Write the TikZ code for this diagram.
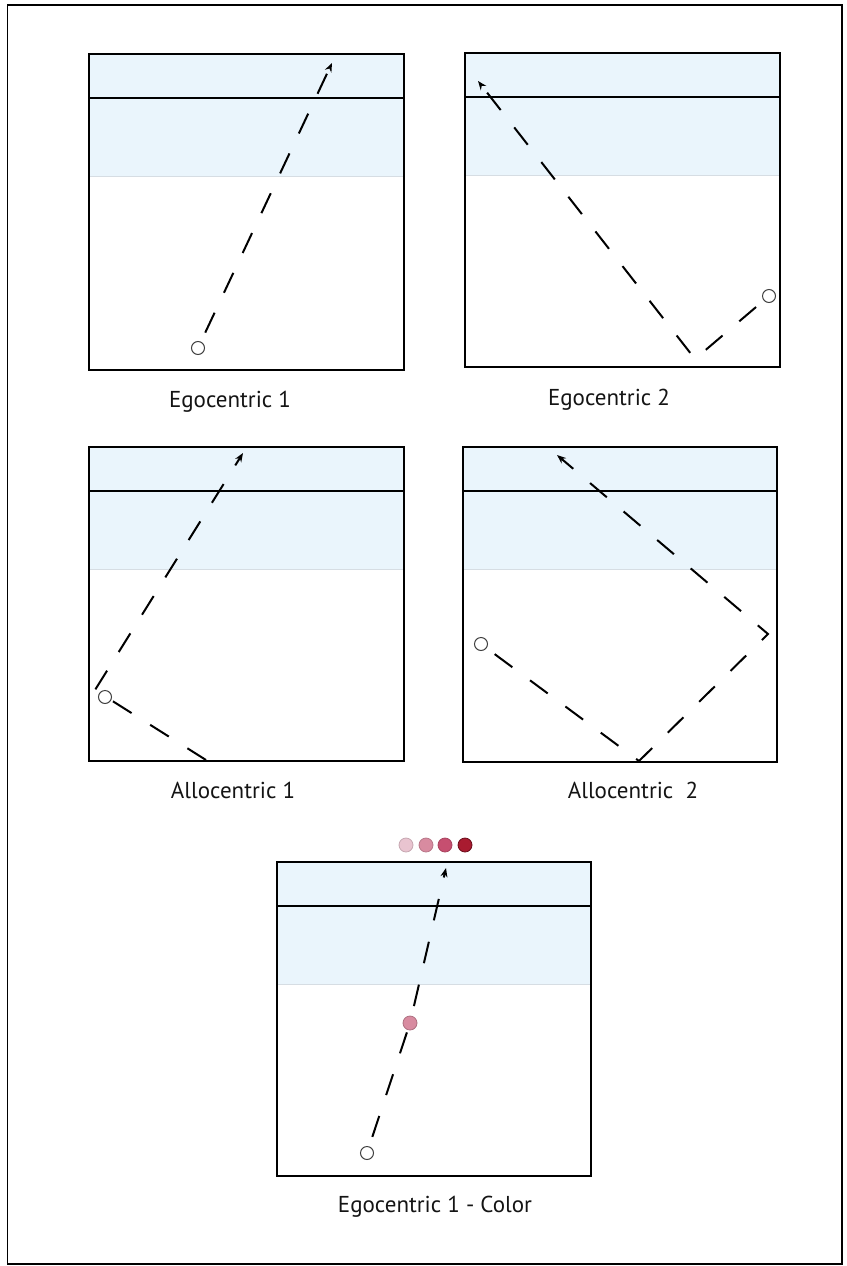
\documentclass[tikz,border=0pt]{standalone}
\usepackage{fontspec}
\setmainfont{PT Sans}
\usetikzlibrary{arrows.meta}

\definecolor{sky}{HTML}{EAF5FC}
\definecolor{rim}{HTML}{D6DDE3}
\definecolor{dotA}{HTML}{E9C4D0}
\definecolor{dotB}{HTML}{D88BA0}
\definecolor{dotC}{HTML}{C64F70}
\definecolor{dotD}{HTML}{A91B30}
\definecolor{dotDedge}{HTML}{6A0C1A}

\tikzset{
  outline/.style={draw=black, line width=2.2pt},
  trail/.style={line width=2pt, dash pattern=on 22pt off 22pt, dash phase=34pt, line cap=butt},
  tipped/.style={trail, -{Stealth[length=9pt,width=7pt]}},
  ball/.style={circle, draw=black!75, line width=1pt, fill=white,
               minimum size=13pt, inner sep=0pt},
  caption/.style={anchor=base, font=\fontsize{23}{27}\selectfont, text=black!92},
  swatch/.style={circle, minimum size=14pt, inner sep=0pt, line width=0.8pt},
}

% one arena: light blue band with a dark rule, a faint lower edge and a frame
\newcommand{\arena}[4]{%
  \fill[sky] (#1,#2) rectangle (#3,#2+122);
  \draw[rim, line width=1pt] (#1,#2+122) -- (#3,#2+122);
  \draw[line width=2pt] (#1,#2+43.5) -- (#3,#2+43.5);
  \draw[outline] (#1,#2) rectangle (#3,#4);
}

\begin{document}
\begin{tikzpicture}[x=1pt,y=-1pt]
\useasboundingbox (0,0) rectangle (846,1266);
\draw[line width=1.6pt] (7.5,5) rectangle (842,1264);

% arenas
\arena{89}{54}{404}{370}
\arena{465}{53}{780}{367}
\arena{89}{447}{404}{761}
\arena{463}{447}{777}{762}
\arena{277}{862}{591}{1176}

% Egocentric 1
\node[ball] (b1) at (198,348) {};
\coordinate (t1) at (332,63);
\draw[tipped] (b1) -- (t1);
\node[caption] (c1) at (230,407) {Egocentric 1};

% Egocentric 2
\node[ball] (b2) at (769,296) {};
\coordinate (w2) at (695,359);
\coordinate (t2) at (478,81);
\draw[tipped] (b2) -- (w2) -- (t2);
\node[caption] (c2) at (609,405) {Egocentric 2};

% Allocentric 1
\coordinate (s3) at (206,760);
\coordinate (w3) at (95,690);
\coordinate (t3) at (243,453);
\draw[tipped, dash phase=0pt] (s3) -- (w3) -- (t3);
\node[ball] (b3) at (105,697) {};
\node[caption] (c3) at (233,798) {Allocentric 1};

% Allocentric 2
\node[ball] (b4) at (481,644) {};
\coordinate (v4) at (639,761);
\coordinate (w4) at (768,634);
\coordinate (t4) at (557,455);
\draw[tipped] (b4) -- (v4) -- (w4) -- (t4);
\node[caption] (c4) at (633,798) {Allocentric\ \ 2};

% Egocentric 1 - Color
\node[ball] (b5) at (367,1153) {};
\node[swatch, fill=dotB, draw=dotB!80!black] (m5) at (410,1023) {};
\coordinate (t5) at (446,868);
\draw[trail] (b5) -- (m5);
\draw[tipped] (m5) -- (t5);
\node[swatch, fill=dotA, draw=dotA!85!black] (k1) at (406,845) {};
\node[swatch, fill=dotB, draw=dotB!85!black] (k2) at (426,845) {};
\node[swatch, fill=dotC, draw=dotC!85!black] (k3) at (445,845) {};
\node[swatch, fill=dotD, draw=dotDedge] (k4) at (465,845) {};
\node[caption] (c5) at (435,1212) {Egocentric 1 - Color};
\end{tikzpicture}
\end{document}
